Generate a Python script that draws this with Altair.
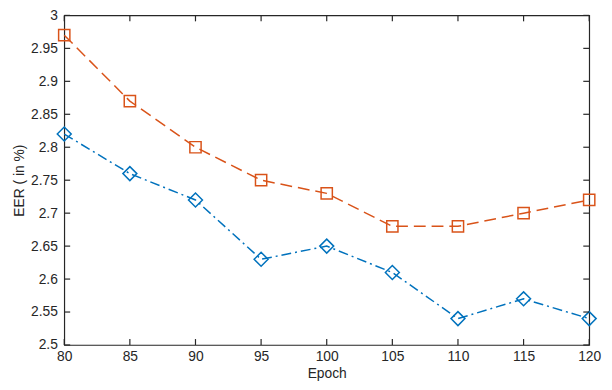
import altair as alt
import pandas as pd

epochs = [80, 85, 90, 95, 100, 105, 110, 115, 120]
eer_orange = [2.97, 2.87, 2.80, 2.75, 2.73, 2.68, 2.68, 2.70, 2.72]
eer_blue = [2.82, 2.76, 2.72, 2.63, 2.65, 2.61, 2.54, 2.57, 2.54]
x_ticks = [80, 85, 90, 95, 100, 105, 110, 115, 120]
y_ticks = [2.5, 2.55, 2.6, 2.65, 2.7, 2.75, 2.8, 2.85, 2.9, 2.95, 3.0]

W, H = 532, 334
TL = 6
FONT = "Liberation Sans"
AXC = "#262626"

df_o = pd.DataFrame({"epoch": epochs, "eer": eer_orange})
df_b = pd.DataFrame({"epoch": epochs, "eer": eer_blue})
df_xt = pd.DataFrame({"epoch": x_ticks})
df_yt = pd.DataFrame({"eer": y_ticks})

xs = alt.Scale(domain=[80, 120], nice=False, zero=False)
ys = alt.Scale(domain=[2.5, 3.0], nice=False, zero=False)

xax = alt.Axis(values=x_ticks, ticks=False, domain=False, grid=False,
               labelFont=FONT, labelFontSize=14, labelColor=AXC, labelPadding=5,
               labelFlush=False, labelOverlap=False,
               title="Epoch", titleFont=FONT, titleFontSize=14, titleFontWeight="normal",
               titleColor=AXC, titlePadding=3)
yax = alt.Axis(values=y_ticks, ticks=False, domain=False, grid=False,
               labelFont=FONT, labelFontSize=14, labelColor=AXC, labelPadding=7,
               labelFlush=False, labelOverlap=False,
               labelExpr="format(datum.value, '.2~f')",
               title="EER ( in %)", titleFont=FONT, titleFontSize=14, titleFontWeight="normal",
               titleColor=AXC, titlePadding=4)

X = alt.X("epoch:Q", scale=xs, axis=xax)
Y = alt.Y("eer:Q", scale=ys, axis=yax)

line_o = alt.Chart(df_o).mark_line(color="#D95319", strokeWidth=1.5,
                                   strokeDash=[12, 6]).encode(x=X, y=Y)
pts_o = alt.Chart(df_o).mark_point(shape="square", filled=False, color="#D95319",
                                   size=130, strokeWidth=1.5, opacity=1).encode(x=X, y=Y)
line_b = alt.Chart(df_b).mark_line(color="#0072BD", strokeWidth=1.5,
                                   strokeDash=[10, 4, 2, 4]).encode(x=X, y=Y)
pts_b = alt.Chart(df_b).mark_point(shape="diamond", filled=False, color="#0072BD",
                                   size=200, strokeWidth=1.5, opacity=1).encode(x=X, y=Y)

tick_b = alt.Chart(df_xt).mark_rule(color=AXC, strokeWidth=1.2).encode(
    x=X, y=alt.value(H - TL), y2=alt.value(H))
tick_t = alt.Chart(df_xt).mark_rule(color=AXC, strokeWidth=1.2).encode(
    x=X, y=alt.value(0), y2=alt.value(TL))
tick_l = alt.Chart(df_yt).mark_rule(color=AXC, strokeWidth=1.2).encode(
    y=Y, x=alt.value(0), x2=alt.value(TL))
tick_r = alt.Chart(df_yt).mark_rule(color=AXC, strokeWidth=1.2).encode(
    y=Y, x=alt.value(W - TL), x2=alt.value(W))

chart = alt.layer(line_o, line_b, pts_o, pts_b, tick_b, tick_t, tick_l, tick_r).properties(
    width=W, height=H,
    autosize=alt.AutoSizeParams(type="none"),
    padding={"left": 57, "top": 5, "right": 15, "bottom": 35},
    background="white",
).configure_view(stroke=AXC, strokeWidth=1.2)

chart.save("out.html", embed_options={"renderer": "svg", "actions": False})
